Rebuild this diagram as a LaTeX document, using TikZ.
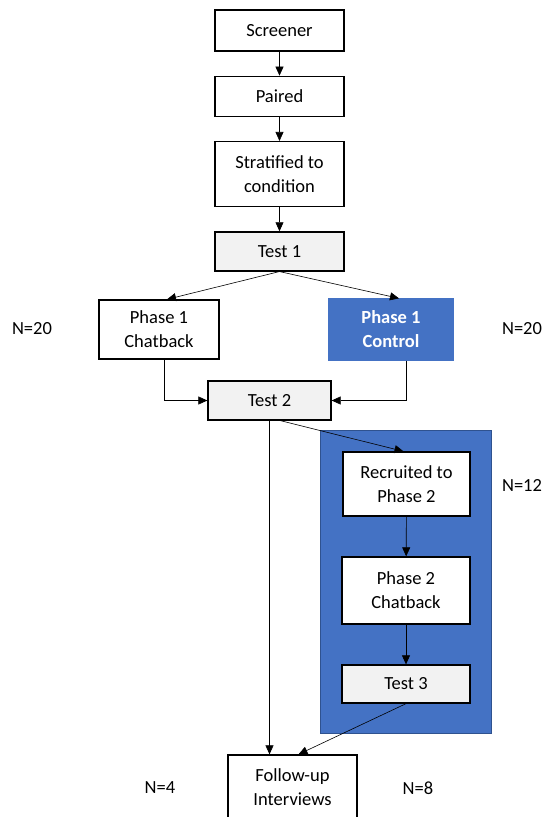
\documentclass[tikz,border=0pt]{standalone}
\usepackage{fontspec}
\setmainfont{Carlito}
\usetikzlibrary{arrows.meta,positioning}
\definecolor{wordblue}{HTML}{4472C4}
\definecolor{wordedge}{HTML}{2F528F}
\definecolor{testgray}{HTML}{F2F2F2}
\tikzset{
  box/.style={draw, fill=white, line width=1.3pt, rectangle, align=center, minimum width=129pt,
    minimum height=40pt, inner sep=2pt, font=\fontsize{18.5}{24}\selectfont},
  testbox/.style={box, fill=testgray},
  ctrlbox/.style={box, draw=wordblue, fill=wordblue, text=white, font=\fontsize{18.5}{24}\selectfont\bfseries},
  count/.style={font=\fontsize{18.5}{24}\selectfont},
  flow/.style={-{Triangle[length=9pt,width=8pt]}, line width=0.6pt}
}

\begin{document}
\begin{tikzpicture}[x=1pt, y=-1pt, node distance = 24pt]
   \useasboundingbox (0,0) rectangle (543,817);
   % phase 2 panel behind its steps
   \node[draw=wordedge, fill=wordblue, line width=1pt, minimum width=171pt, minimum height=303pt] (panel) at (405.5,581.5) {};
   \node[box, minimum height=41pt] (screener) at (279.5,30.5) {Screener};
   \node[box] (paired) [below=of screener] {Paired};
   \node[box, minimum height=65pt] (strat) [below=of paired] {Stratified to\\condition};
   \node[testbox, minimum height=39pt] (test1) [below=of strat] {Test 1};
   \node[box, minimum width=120pt, minimum height=59pt] (chat1) at (159,329.5) {Phase 1\\Chatback};
   \node[ctrlbox, minimum width=124pt, minimum height=61pt] (ctrl) at (391,329.5) {Phase 1\\Control};
   \node[testbox, minimum width=123pt, minimum height=39pt] (test2) at (269.5,400.5) {Test 2};
   \node[box, minimum width=127pt, minimum height=64pt] (recruit) at (406.5,484) {Recruited to\\Phase 2};
   \node[box, minimum width=128pt, minimum height=67pt] (chat2) at (406,590.5) {Phase 2\\Chatback};
   \node[testbox, minimum width=128pt, minimum height=38pt] (test3) at (406,684) {Test 3};
   \node[box, minimum height=65pt] (follow) at (292.5,787.5) {Follow-up\\Interviews};
   \node[count] (nchat1) at (32,329) {N=20};
   \node[count] (nctrl) at (522,329) {N=20};
   \node[count] (nrecruit) at (522,485) {N=12};
   \node[count] (nfour) at (160,788) {N=4};
   \node[count] (neight) at (418,788) {N=8};
    \draw[flow] (screener) -- (paired);
    \draw[flow] (paired) -- (strat);
    \draw[flow] (strat) -- (test1);
    \draw[flow] (test1.south) -- ([xshift=8pt]chat1.north);
    \draw[flow] (test1.south) -- ([xshift=8pt]ctrl.north);
    \draw[flow] ([xshift=5pt]chat1.south) |- (test2.west);
    \draw[flow] ([xshift=15pt]ctrl.south) |- (test2.east);
    \draw[flow] ([xshift=11pt]test2.south) -- ([xshift=-3pt]recruit.north);
    \draw[flow] (recruit) -- (chat2);
    \draw[flow] (chat2) -- (test3);
    \draw[flow] (test2.south) -- (test2.south |- follow.north);
    \draw[flow] (test3.south) -- ([xshift=6pt]follow.north);
\end{tikzpicture}
\end{document}
